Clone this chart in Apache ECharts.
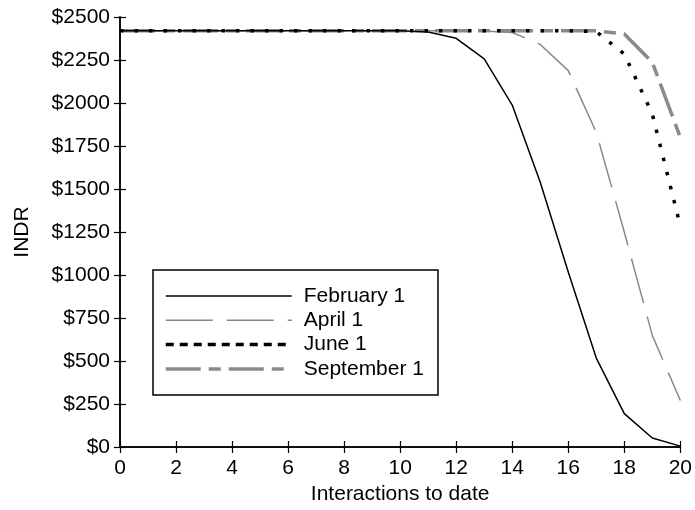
<!DOCTYPE html>
<html>
<head>
<meta charset="utf-8">
<script src="https://cdn.jsdelivr.net/npm/echarts@6/dist/echarts.min.js"></script>
<style>html,body{margin:0;padding:0;background:#fff;}#c{width:695px;height:510px;}</style>
</head>
<body>
<div id="c"></div>
<script>
const xValues = [0,1,2,3,4,5,6,7,8,9,10,11,12,13,14,15,16,17,18,19,20];
const seriesNames = ['February 1','April 1','June 1','September 1'];
const february = [2420,2420,2420,2420,2420,2420,2420,2420,2420,2420,2420,2413,2376,2256,1988,1539,1017,517,194,52,5];
const april = [2420,2420,2420,2420,2420,2420,2420,2420,2420,2420,2420,2420,2420,2418,2410,2340,2188,1829,1250,649,270];
const june = [2420,2420,2420,2420,2420,2420,2420,2420,2420,2420,2420,2420,2420,2420,2420,2420,2420,2415,2285,1936,1285];
const september = [2420,2420,2420,2420,2420,2420,2420,2420,2420,2420,2420,2420,2420,2420,2420,2420,2420,2420,2401,2236,1800];
const yTicks = [0,250,500,750,1000,1250,1500,1750,2000,2250,2500];

const FONT = 'Liberation Sans, Arial, sans-serif';
const FS = 21;
function pairs(arr){ return xValues.map((x,i)=>[x,arr[i]]); }

const axisCommon = {
  axisLine:{show:true, lineStyle:{color:'#000', width:1.5}},
  axisTick:{show:true, inside:true, length:6, lineStyle:{color:'#000', width:1.2}},
  splitLine:{show:false}
};

const styles = [
  {color:'#000', width:1.5, type:'solid'},
  {color:'#888', width:1.5, type:[46,14]},
  {color:'#000', width:3.5, type:[3.5,11]},
  {color:'#8a8a8a', width:3.5, type:[35,8,12,8]}
];
const legendStyles = [
  {color:'#000', width:1.5, type:'solid'},
  {color:'#888', width:1.5, type:[47,14]},
  {color:'#000', width:3.5, type:[8,6]},
  {color:'#8a8a8a', width:3.5, type:[35,8,12,8]}
];

const chart = echarts.init(document.getElementById('c'), null, {renderer:'canvas'});
chart.setOption({
  animation:false,
  backgroundColor:'#fff',
  textStyle:{fontFamily:FONT},
  grid:{left:120, right:13, top:17, bottom:58, containLabel:false},
  xAxis:[
    Object.assign({type:'value', min:0, max:20, interval:2, position:'bottom',
      name:'Interactions to date', nameLocation:'middle', nameGap:37,
      nameTextStyle:{fontSize:FS, color:'#000', fontFamily:FONT},
      axisLabel:{fontSize:FS, color:'#000', fontFamily:FONT, margin:11}}, axisCommon),
    Object.assign({type:'value', min:0, max:20, interval:2, position:'top',
      axisLabel:{show:false}}, axisCommon)
  ],
  yAxis:[
    Object.assign({type:'value', min:0, max:2500, interval:250, position:'left',
      name:'INDR', nameLocation:'middle', nameGap:87, nameRotate:90,
      nameTextStyle:{fontSize:FS, color:'#000', fontFamily:FONT},
      axisLabel:{fontSize:FS, color:'#000', fontFamily:FONT, margin:10,
        formatter:v=>'$'+v}}, axisCommon),
    Object.assign({type:'value', min:0, max:2500, interval:250, position:'right',
      axisLabel:{show:false}}, axisCommon)
  ],
  legend:{
    orient:'vertical', left:153, top:270,
    data:seriesNames.map((n,i)=>({name:n, itemStyle:{opacity:0}, lineStyle:legendStyles[i]})),
    itemWidth:126, itemHeight:14, itemGap:3.3,
    padding:[15.5,14,15.5,11],
    borderColor:'#000', borderWidth:1.5,
    backgroundColor:'#fff',
    textStyle:{fontSize:FS, color:'#000', fontFamily:FONT, padding:[0,0,0,7]}
  },
  series:seriesNames.map((n,i)=>({
    name:n, type:'line', data:pairs([february,april,june,september][i]), symbol:'none',
    lineStyle:styles[i], itemStyle:{color:styles[i].color}, z:[4,3,5,2][i]
  }))
});
</script>
</body>
</html>
